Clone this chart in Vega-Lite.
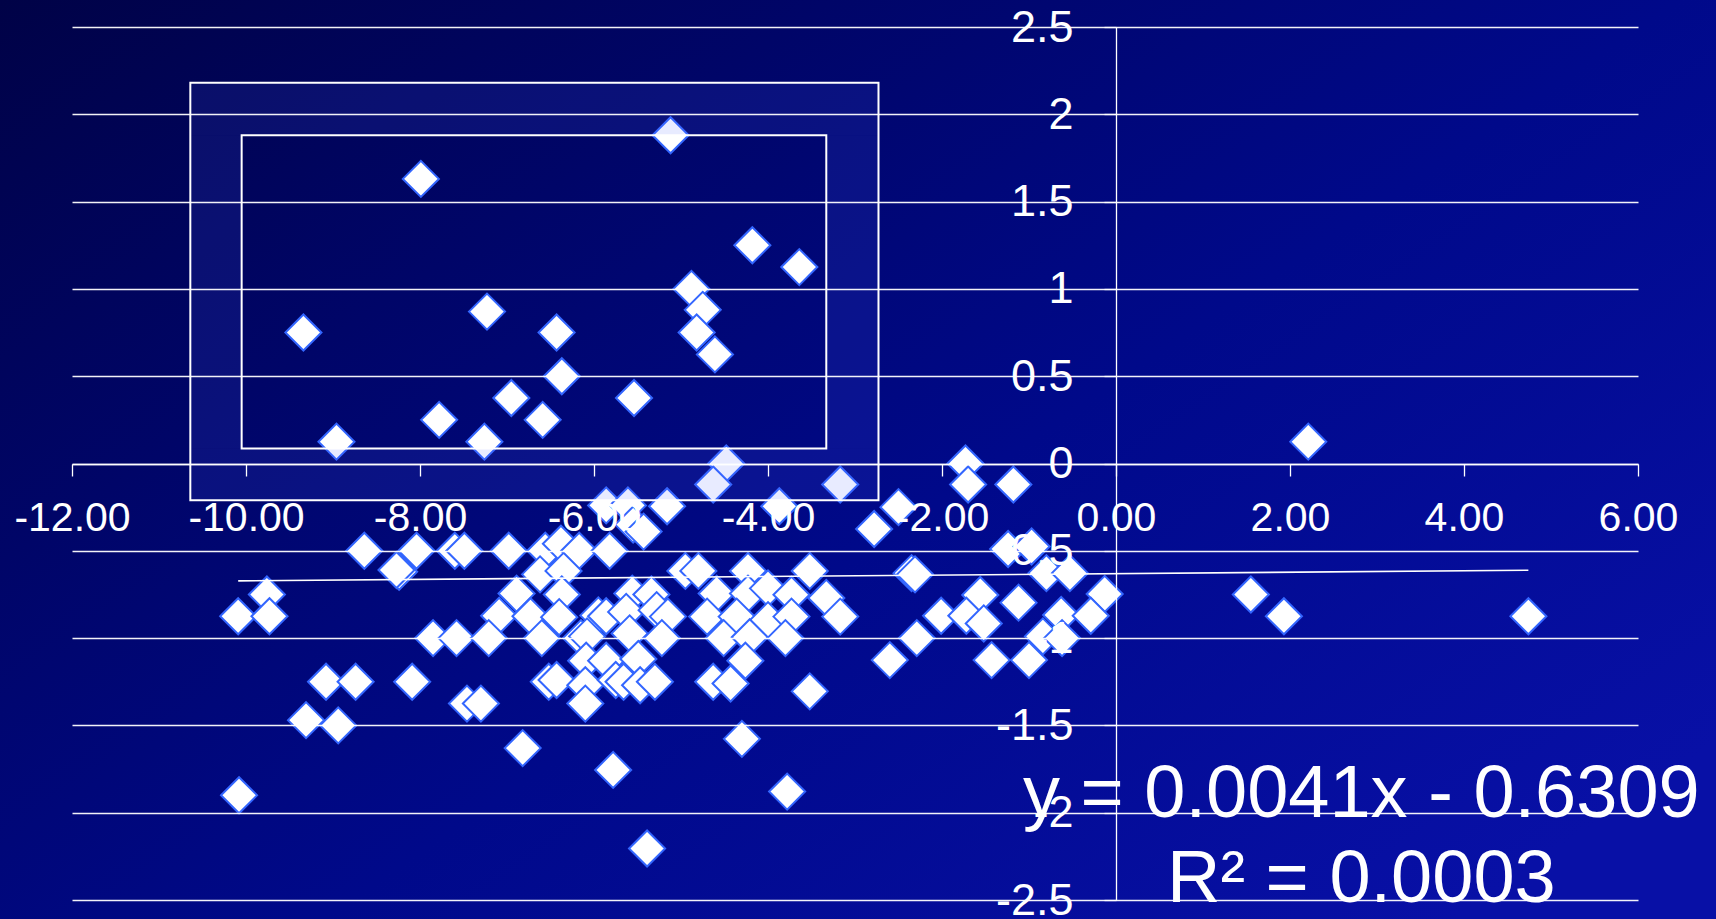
{
  "$schema": "https://vega.github.io/schema/vega-lite/v6.json",
  "width": 1566,
  "height": 873,
  "padding": {"left": 72, "top": 27, "right": 78, "bottom": 19},
  "autosize": {"type": "none"},
  "background": "#000670",
  "config": {
    "font": "Liberation Sans",
    "view": {"stroke": null, "fill": "#000779"}
  },
  "datasets": {
    "points": [
      {"x": -7.99, "y": 1.63}, {"x": -9.34, "y": 0.75}, {"x": -7.23, "y": 0.87}, {"x": -6.43, "y": 0.75},
      {"x": -6.37, "y": 0.5}, {"x": -6.95, "y": 0.375}, {"x": -7.78, "y": 0.25}, {"x": -6.59, "y": 0.25},
      {"x": -8.96, "y": 0.125}, {"x": -7.26, "y": 0.125}, {"x": -5.12, "y": 1.88}, {"x": -4.18, "y": 1.25},
      {"x": -3.64, "y": 1.125}, {"x": -4.88, "y": 1.0}, {"x": -4.75, "y": 0.88}, {"x": -4.82, "y": 0.75},
      {"x": -4.61, "y": 0.625}, {"x": -5.54, "y": 0.375}, {"x": -4.48, "y": 0.0}, {"x": -1.73, "y": 0.0},
      {"x": 2.21, "y": 0.125},
      {"x": -4.63, "y": -0.12}, {"x": -3.17, "y": -0.12}, {"x": -1.7, "y": -0.12}, {"x": -1.18, "y": -0.12},
      {"x": -5.86, "y": -0.24}, {"x": -5.61, "y": -0.24}, {"x": -5.16, "y": -0.245}, {"x": -3.87, "y": -0.245},
      {"x": -2.5, "y": -0.25}, {"x": -5.55, "y": -0.35}, {"x": -5.43, "y": -0.39}, {"x": -2.78, "y": -0.375},
      {"x": -8.64, "y": -0.5}, {"x": -8.04, "y": -0.5}, {"x": -7.6, "y": -0.5}, {"x": -7.49, "y": -0.5},
      {"x": -6.98, "y": -0.5}, {"x": -6.56, "y": -0.5}, {"x": -6.38, "y": -0.46}, {"x": -6.17, "y": -0.5},
      {"x": -5.82, "y": -0.5}, {"x": -1.24, "y": -0.49}, {"x": -0.97, "y": -0.475},
      {"x": -8.24, "y": -0.62}, {"x": -8.27, "y": -0.61}, {"x": -6.62, "y": -0.635}, {"x": -6.35, "y": -0.615},
      {"x": -4.95, "y": -0.615}, {"x": -4.8, "y": -0.615}, {"x": -4.23, "y": -0.615}, {"x": -3.52, "y": -0.615},
      {"x": -2.35, "y": -0.628}, {"x": -2.31, "y": -0.635}, {"x": -0.8, "y": -0.628}, {"x": -0.53, "y": -0.628},
      {"x": -9.76, "y": -0.75}, {"x": -6.89, "y": -0.745}, {"x": -6.37, "y": -0.75}, {"x": -5.56, "y": -0.745},
      {"x": -5.34, "y": -0.75}, {"x": -4.59, "y": -0.745}, {"x": -4.23, "y": -0.745}, {"x": -4.0, "y": -0.715},
      {"x": -3.73, "y": -0.752}, {"x": -3.33, "y": -0.77}, {"x": -1.56, "y": -0.753}, {"x": -1.12, "y": -0.797},
      {"x": -0.13, "y": -0.747}, {"x": 1.55, "y": -0.75},
      {"x": -10.09, "y": -0.875}, {"x": -9.73, "y": -0.875}, {"x": -7.09, "y": -0.872}, {"x": -6.73, "y": -0.875},
      {"x": -6.4, "y": -0.88}, {"x": -5.95, "y": -0.87}, {"x": -5.86, "y": -0.875}, {"x": -5.63, "y": -0.85},
      {"x": -5.28, "y": -0.84}, {"x": -5.15, "y": -0.877}, {"x": -4.7, "y": -0.877}, {"x": -4.36, "y": -0.877},
      {"x": -4.0, "y": -0.897}, {"x": -3.73, "y": -0.877}, {"x": -3.17, "y": -0.877}, {"x": -2.01, "y": -0.872},
      {"x": -1.72, "y": -0.872}, {"x": -1.52, "y": -0.916}, {"x": -0.63, "y": -0.868}, {"x": -0.29, "y": -0.872},
      {"x": 1.93, "y": -0.875}, {"x": 4.74, "y": -0.875},
      {"x": -7.85, "y": -1.0}, {"x": -7.58, "y": -1.0}, {"x": -7.21, "y": -1.0}, {"x": -6.6, "y": -1.0},
      {"x": -6.15, "y": -1.0}, {"x": -6.08, "y": -0.99}, {"x": -5.59, "y": -0.973}, {"x": -5.22, "y": -1.0},
      {"x": -4.51, "y": -1.0}, {"x": -4.21, "y": -0.995}, {"x": -3.8, "y": -1.0}, {"x": -2.29, "y": -1.0},
      {"x": -0.84, "y": -0.99}, {"x": -0.62, "y": -1.0},
      {"x": -6.09, "y": -1.13}, {"x": -5.86, "y": -1.13}, {"x": -5.49, "y": -1.12}, {"x": -4.26, "y": -1.13},
      {"x": -2.6, "y": -1.126}, {"x": -1.43, "y": -1.126}, {"x": -1.0, "y": -1.126},
      {"x": -9.08, "y": -1.25}, {"x": -8.74, "y": -1.25}, {"x": -8.09, "y": -1.25}, {"x": -6.52, "y": -1.25},
      {"x": -6.43, "y": -1.24}, {"x": -6.1, "y": -1.27}, {"x": -5.75, "y": -1.24}, {"x": -5.66, "y": -1.25},
      {"x": -5.47, "y": -1.27}, {"x": -5.3, "y": -1.25}, {"x": -4.63, "y": -1.25}, {"x": -4.43, "y": -1.26},
      {"x": -3.52, "y": -1.305},
      {"x": -7.46, "y": -1.375}, {"x": -7.3, "y": -1.375}, {"x": -6.1, "y": -1.375}, {"x": -9.31, "y": -1.47},
      {"x": -8.94, "y": -1.5}, {"x": -6.82, "y": -1.63}, {"x": -4.3, "y": -1.577}, {"x": -5.78, "y": -1.755},
      {"x": -3.78, "y": -1.879}, {"x": -10.08, "y": -1.9}, {"x": -5.39, "y": -2.205}
    ],
    "trend": [
      {"x": -10.09, "y": -0.6723},
      {"x": 4.74, "y": -0.6115}
    ],
    "one": [{}]
  },
  "layer": [
    {
      "data": {"name": "one"},
      "mark": {"type": "rect", "strokeWidth": 0,
        "fill": {"gradient": "linear", "x1": 0, "y1": 0, "x2": 1, "y2": 0.8,
          "stops": [
            {"offset": 0, "color": "#000246"},
            {"offset": 0.3, "color": "#000568"},
            {"offset": 0.6, "color": "#00098a"},
            {"offset": 1, "color": "#0810a6"}
          ]}},
      "encoding": {
        "x": {"datum": -12.9, "type": "quantitative"}, "x2": {"datum": 6.95},
        "y": {"datum": -2.65, "type": "quantitative"}, "y2": {"datum": 2.7}
      }
    },
    {
      "data": {"name": "points"},
      "mark": {"type": "point", "shape": "diamond", "filled": true, "fill": "#ffffff", "stroke": "#3366ff", "strokeWidth": 2, "size": 1300, "opacity": 1},
      "encoding": {
        "x": {
          "field": "x", "type": "quantitative",
          "scale": {"domain": [-12, 6], "nice": false, "zero": false},
          "axis": {
            "orient": "bottom", "offset": -436, "title": null, "zindex": 1,
            "values": [-12, -10, -8, -6, -4, -2, 0, 2, 4, 6],
            "labelExpr": "replace(format(datum.value, '.2f'), '\u2212', '-')",
            "labelFont": "Liberation Sans", "labelFontSize": 41, "labelColor": "#ffffff",
            "labelPadding": 22, "labelFlush": false, "labelOverlap": false, "labelBound": false,
            "tickSize": 12, "tickColor": "#ffffff", "tickWidth": 1.3,
            "domainColor": "#ffffff", "domainWidth": 1.3, "grid": false
          }
        },
        "y": {
          "field": "y", "type": "quantitative",
          "scale": {"domain": [-2.5, 2.5], "nice": false, "zero": false},
          "axis": {
            "orient": "left", "offset": -1044, "title": null, "zindex": 1,
            "values": [-2.5, -2, -1.5, -1, -0.5, 0, 0.5, 1, 1.5, 2, 2.5],
            "labelExpr": "replace(format(datum.value, '~g'), '\u2212', '-')",
            "labelFont": "Liberation Sans", "labelFontSize": 45, "labelColor": "#ffffff",
            "labelPadding": 31, "labelOverlap": false, "labelBound": false, "labelFlush": false,
            "tickSize": 12, "tickColor": "#ffffff", "tickWidth": 1.3,
            "domainColor": "#ffffff", "domainWidth": 1.3,
            "grid": true, "gridColor": "#ffffff", "gridWidth": 1.4, "gridOpacity": 0.95
          }
        }
      }
    },
    {
      "data": {"name": "trend"},
      "mark": {"type": "line", "color": "#ffffff", "strokeWidth": 1.6},
      "encoding": {
        "x": {"field": "x", "type": "quantitative"},
        "y": {"field": "y", "type": "quantitative"}
      }
    },
    {
      "data": {"name": "one"},
      "mark": {"type": "rect", "fill": "#4a68ff", "fillOpacity": 0.13, "strokeWidth": 0},
      "encoding": {
        "x": {"datum": -10.64, "type": "quantitative"}, "x2": {"datum": -2.73},
        "y": {"datum": 1.88, "type": "quantitative"}, "y2": {"datum": 2.18}
      }
    },
    {
      "data": {"name": "one"},
      "mark": {"type": "rect", "fill": "#4a68ff", "fillOpacity": 0.13, "strokeWidth": 0},
      "encoding": {
        "x": {"datum": -10.64, "type": "quantitative"}, "x2": {"datum": -2.73},
        "y": {"datum": -0.21, "type": "quantitative"}, "y2": {"datum": 0.086}
      }
    },
    {
      "data": {"name": "one"},
      "mark": {"type": "rect", "fill": "#4a68ff", "fillOpacity": 0.13, "strokeWidth": 0},
      "encoding": {
        "x": {"datum": -10.64, "type": "quantitative"}, "x2": {"datum": -10.05},
        "y": {"datum": 0.086, "type": "quantitative"}, "y2": {"datum": 1.88}
      }
    },
    {
      "data": {"name": "one"},
      "mark": {"type": "rect", "fill": "#4a68ff", "fillOpacity": 0.13, "strokeWidth": 0},
      "encoding": {
        "x": {"datum": -3.33, "type": "quantitative"}, "x2": {"datum": -2.73},
        "y": {"datum": 0.086, "type": "quantitative"}, "y2": {"datum": 1.88}
      }
    },
    {
      "data": {"name": "one"},
      "mark": {"type": "rect", "fillOpacity": 0, "stroke": "#ffffff", "strokeWidth": 2},
      "encoding": {
        "x": {"datum": -10.64, "type": "quantitative"}, "x2": {"datum": -2.73},
        "y": {"datum": -0.21, "type": "quantitative"}, "y2": {"datum": 2.18}
      }
    },
    {
      "data": {"name": "one"},
      "mark": {"type": "rect", "fillOpacity": 0, "stroke": "#ffffff", "strokeWidth": 2},
      "encoding": {
        "x": {"datum": -10.05, "type": "quantitative"}, "x2": {"datum": -3.33},
        "y": {"datum": 0.086, "type": "quantitative"}, "y2": {"datum": 1.88}
      }
    },
    {
      "data": {"name": "one"},
      "mark": {"type": "text", "align": "center", "baseline": "alphabetic", "font": "Liberation Sans",
        "fontSize": 74, "color": "#ffffff", "lineHeight": 85,
        "text": ["y = 0.0041x - 0.6309", "R² = 0.0003"]},
      "encoding": {
        "x": {"datum": 2.82, "type": "quantitative"},
        "y": {"datum": -2.027, "type": "quantitative"}
      }
    }
  ]
}
